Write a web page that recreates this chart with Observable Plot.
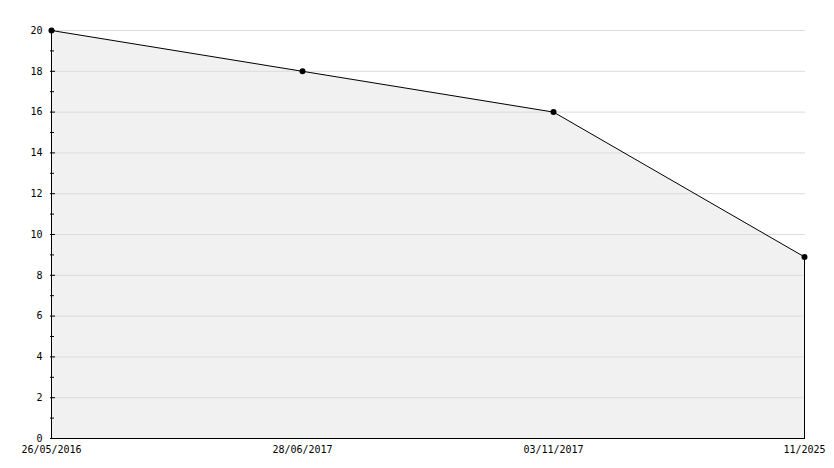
<!DOCTYPE html>
<html>
<head>
<meta charset="utf-8">
<script src="https://cdn.jsdelivr.net/npm/d3@7"></script>
<script src="https://cdn.jsdelivr.net/npm/@observablehq/plot@0.6"></script>
<style>
  html, body { margin: 0; padding: 0; background: #fff; }
  #chart svg { display: block; }
</style>
</head>
<body>
<div id="chart"></div>
<script>
const dates = ["26/05/2016", "28/06/2017", "03/11/2017", "11/2025"];
const values = [20, 18, 16, 8.9];
const majorTicks = [0, 2, 4, 6, 8, 10, 12, 14, 16, 18, 20];
const minorTicks = [1, 3, 5, 7, 9, 11, 13, 15, 17, 19];
const gridTicks = [2, 4, 6, 8, 10, 12, 14, 16, 18, 20];

const data = dates.map((d, i) => ({date: d, value: values[i]}));
const last = data[data.length - 1];

const chart = Plot.plot({
  width: 834,
  height: 468,
  marginLeft: 50,
  marginRight: 29,
  marginTop: 30,
  marginBottom: 30,
  style: {fontFamily: "DejaVu Sans Mono", fontSize: "10px", color: "#000", background: "#fff"},
  x: {type: "point", domain: dates, padding: 0},
  y: {domain: [0, 20]},
  marks: [
    Plot.areaY(data, {x: "date", y: "value", fill: "#f1f1f1"}),
    Plot.ruleY(gridTicks, {stroke: "#dcdcdc", strokeWidth: 1}),
    Plot.ruleX([last], {x: "date", y1: 0, y2: "value", stroke: "#000"}),
    Plot.line(data, {x: "date", y: "value", stroke: "#000", strokeWidth: 1}),
    Plot.dot(data, {x: "date", y: "value", r: 3, fill: "#000", stroke: null}),
    Plot.ruleY([0], {stroke: "#000"}),
    Plot.ruleX([dates[0]], {stroke: "#000"}),
    Plot.axisY({ticks: majorTicks, tickSize: 5, dx: 5, text: null, label: null, stroke: "#000"}),
    Plot.axisY({ticks: minorTicks, tickSize: 4, dx: 4, text: null, label: null, stroke: "#000"}),
    Plot.axisY({ticks: majorTicks, tickSize: 0, tickPadding: 8, label: null, tickFormat: d => String(d)}),
    Plot.axisX({tickSize: 0, tickPadding: 7, label: null})
  ]
});
document.getElementById("chart").appendChild(chart);
</script>
</body>
</html>
